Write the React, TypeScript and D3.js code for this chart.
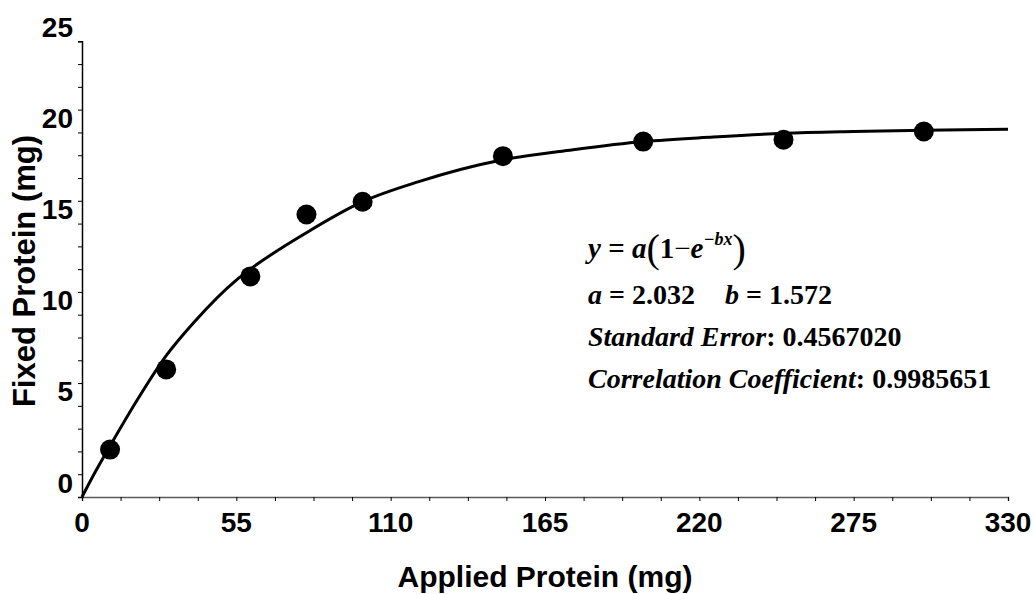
import * as d3 from "d3";
import { useEffect, useRef } from "react";

// measured points
const appliedX = [10, 30, 60, 80, 100, 150, 200, 250, 300];
const fixedY = [2.6, 7.0, 12.1, 15.5, 16.2, 18.7, 19.5, 19.6, 20.05];

// fitted curve
const fitX = [0, 5, 10, 20, 30, 40, 55, 60, 80, 100, 120, 150, 175, 200, 225, 250, 275, 300, 330];
const fitY = [0, 1.45, 2.8, 5.4, 7.75, 9.6, 11.9, 12.5, 14.5, 16.2, 17.3, 18.5, 19.05, 19.5, 19.75, 19.95, 20.05, 20.12, 20.17];

const xTickLabels = [0, 55, 110, 165, 220, 275, 330];
const yTickLabels = [0, 5, 10, 15, 20, 25];

export default function App() {
  const ref = useRef<SVGSVGElement>(null);

  const svgX = 1034;
  const svgY = 594;

  useEffect(() => {
    const svg = d3.select(ref.current);
    svg.selectAll("*").remove();

    const x = d3.scaleLinear().domain([0, 330]).range([82, 1008]);
    const y = d3.scaleLinear().domain([0, 25]).range([497, 41.3]);

    // minor ticks, 4 per major
    const xMinor = d3.range(0, 330.01, 55 / 4);
    const yMinor = d3.range(0, 25.01, 5 / 4);

    const sans = "'Liberation Sans', Arial, sans-serif";

    // x axis
    const gx = svg.append("g").attr("transform", `translate(0,${y(0)})`);
    gx.call(
      d3.axisBottom(x).tickValues(xMinor).tickSize(4).tickFormat(() => "")
    );
    gx.select(".domain").attr("stroke", "#5a5a5a").attr("stroke-width", 1.5);
    gx.selectAll(".tick line").attr("stroke", "#000");

    svg
      .selectAll("text.xlab")
      .data(xTickLabels)
      .join("text")
      .attr("class", "xlab")
      .attr("x", (d) => x(d))
      .attr("y", 532)
      .attr("text-anchor", "middle")
      .style("font-family", sans)
      .style("font-weight", "bold")
      .style("font-size", "28px")
      .text((d) => d);

    // y axis
    const gy = svg.append("g").attr("transform", `translate(${x(0)},0)`);
    gy.call(
      d3.axisLeft(y).tickValues(yMinor).tickSize(4).tickFormat(() => "")
    );
    gy.select(".domain").attr("stroke", "#000").attr("stroke-width", 1.5);
    gy.selectAll(".tick line").attr("stroke", "#000");

    svg
      .selectAll("text.ylab")
      .data(yTickLabels)
      .join("text")
      .attr("class", "ylab")
      .attr("x", 73)
      .attr("y", (d) => y(d) - 4.5)
      .attr("text-anchor", "end")
      .style("font-family", sans)
      .style("font-weight", "bold")
      .style("font-size", "28px")
      .text((d) => d);

    // axis titles
    svg
      .append("text")
      .attr("x", 545)
      .attr("y", 587)
      .attr("text-anchor", "middle")
      .style("font-family", sans)
      .style("font-weight", "bold")
      .style("font-size", "30px")
      .text("Applied Protein (mg)");

    svg
      .append("text")
      .attr("transform", "translate(35,271) rotate(-90)")
      .attr("text-anchor", "middle")
      .style("font-family", sans)
      .style("font-weight", "bold")
      .style("font-size", "31px")
      .text("Fixed Protein (mg)");

    // fitted line
    const line = d3
      .line<number>()
      .x((d, i) => x(fitX[i]))
      .y((d) => y(d))
      .curve(d3.curveMonotoneX);

    svg
      .append("path")
      .attr("d", line(fitY))
      .attr("fill", "none")
      .attr("stroke", "#000")
      .attr("stroke-width", 3);

    // points
    svg
      .selectAll("circle")
      .data(fixedY)
      .join("circle")
      .attr("cx", (d, i) => x(appliedX[i]))
      .attr("cy", (d) => y(d))
      .attr("r", 10)
      .attr("fill", "#000");

    // equation block
    const eq = svg
      .append("g")
      .style("font-family", "'Liberation Serif', 'Times New Roman', serif")
      .style("font-weight", "bold")
      .style("font-size", "28px");

    const l1 = eq.append("text").attr("x", 588).attr("y", 258).style("font-size", "29px");
    l1.append("tspan").style("font-style", "italic").text("y");
    l1.append("tspan").text(" = ");
    l1.append("tspan").style("font-style", "italic").text("a");
    l1.append("tspan").style("font-size", "40px").style("font-weight", "normal").attr("dy", 4).text("(");
    l1.append("tspan").attr("dy", -4).text("1");
    l1.append("tspan").style("font-weight", "normal").text("−");
    l1.append("tspan").style("font-style", "italic").text("e");
    l1.append("tspan")
      .style("font-style", "italic")
      .style("font-size", "18px")
      .attr("dy", -13)
      .text("−bx");
    l1.append("tspan").style("font-size", "40px").style("font-weight", "normal").attr("dy", 17).text(")");

    const l2 = eq.append("text").attr("x", 588).attr("y", 304);
    l2.append("tspan").style("font-style", "italic").text("a");
    l2.append("tspan").text(" = 2.032");
    l2.append("tspan").attr("dx", 30).style("font-style", "italic").text("b");
    l2.append("tspan").text(" = 1.572");

    const l3 = eq.append("text").attr("x", 588).attr("y", 346);
    l3.append("tspan").style("font-style", "italic").text("Standard Error");
    l3.append("tspan").text(": 0.4567020");

    const l4 = eq.append("text").attr("x", 588).attr("y", 388);
    l4.append("tspan").style("font-style", "italic").text("Correlation Coefficient");
    l4.append("tspan").text(": 0.9985651");
  }, []);

  return (
    <div>
      <svg
        ref={ref}
        width={svgX}
        height={svgY}
        style={{ position: "absolute", left: 0, top: 0, background: "#fff" }}
      />
    </div>
  );
}
